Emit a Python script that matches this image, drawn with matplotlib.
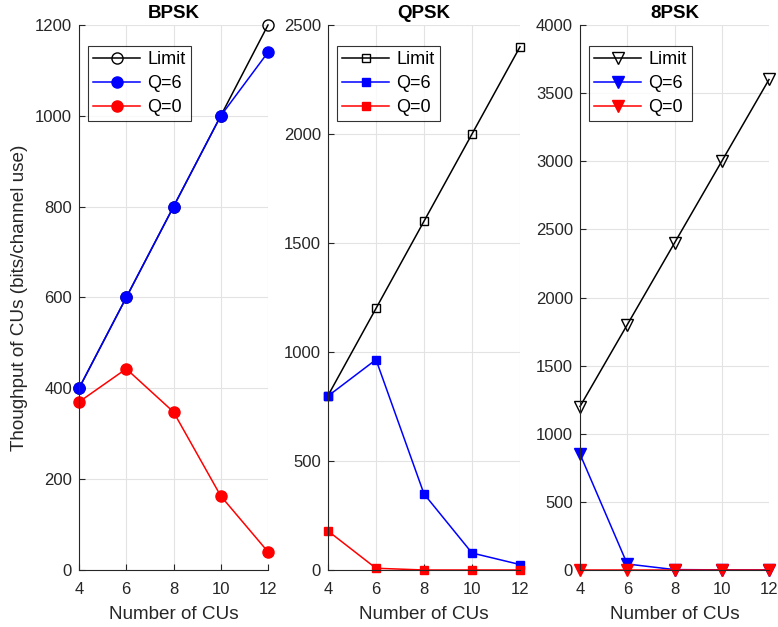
import matplotlib
matplotlib.use("Agg")
import matplotlib.pyplot as plt

plt.rcParams['font.family'] = ['Liberation Sans', 'DejaVu Sans']

cus = [4, 6, 8, 10, 12]

bpsk_limit = [400, 600, 800, 1000, 1200]
bpsk_q6 = [400, 600, 800, 1000, 1140]
bpsk_q0 = [370, 443, 348, 163, 40]

qpsk_limit = [800, 1200, 1600, 2000, 2400]
qpsk_q6 = [798, 965, 349, 78, 25]
qpsk_q0 = [179, 8, 0, 0, 0]

psk8_limit = [1200, 1800, 2400, 3000, 3600]
psk8_q6 = [851, 44, 3, 1, 0]
psk8_q0 = [0, 0, 0, 0, 0]

titles = ['BPSK', 'QPSK', '8PSK']
limits = [bpsk_limit, qpsk_limit, psk8_limit]
q6s = [bpsk_q6, qpsk_q6, psk8_q6]
q0s = [bpsk_q0, qpsk_q0, psk8_q0]
markers = ['o', 's', 'v']
msizes = [8, 6, 8.5]
ymaxes = [1200, 2500, 4000]
ysteps = [200, 500, 500]
lefts = [79, 328, 580]
widths = [189, 192, 189]

W, H = 778, 627
fig = plt.figure(figsize=(W / 100, H / 100), dpi=100)

axis_col = '#262626'
for i in range(3):
    ax = fig.add_axes([lefts[i] / W, (H - 570) / H, widths[i] / W, 545 / H])
    m = markers[i]
    ms = msizes[i]
    ax.plot(cus, limits[i], color='black', marker=m, markersize=ms,
            markerfacecolor='none', markeredgecolor='black', lw=1.1, label='Limit')
    ax.plot(cus, q6s[i], color='blue', marker=m, markersize=ms,
            markerfacecolor='blue', markeredgecolor='blue', lw=1.1, label='Q=6')
    ax.plot(cus, q0s[i], color='red', marker=m, markersize=ms,
            markerfacecolor='red', markeredgecolor='red', lw=1.1, label='Q=0')
    ax.set_xlim(4, 12)
    ax.set_ylim(0, ymaxes[i])
    ax.set_xticks(cus)
    ax.set_yticks(range(0, ymaxes[i] + 1, ysteps[i]))
    ax.grid(True, color='#e3e3e3', lw=0.8)
    ax.set_axisbelow(True)
    for s in ['top', 'right']:
        ax.spines[s].set_visible(False)
    for s in ['left', 'bottom']:
        ax.spines[s].set_color(axis_col)
        ax.spines[s].set_linewidth(0.8)
    ax.tick_params(direction='in', colors=axis_col, labelsize=12, length=4,
                   width=0.8, labelcolor=axis_col)
    ax.tick_params(axis='x', pad=9)
    ax.tick_params(axis='y', pad=5)
    ax.set_xlabel('Number of CUs', fontsize=13.6, color=axis_col, labelpad=6)
    ax.set_title(titles[i], fontsize=13.5, fontweight='bold', pad=5)
    if i == 0:
        ax.set_ylabel('Thoughput of CUs (bits/channel use)', fontsize=13.6,
                      color=axis_col, labelpad=5)
    for line in ax.get_lines():
        line.set_clip_on(False)
    leg = ax.legend(loc='upper left', bbox_to_anchor=(0.047, 0.962), fontsize=13,
                    frameon=True, fancybox=False, edgecolor='black',
                    handlelength=2.6, borderpad=0.3, labelspacing=0.38,
                    handletextpad=0.4, borderaxespad=0)
    leg.get_frame().set_linewidth(0.8)

fig.savefig('out.png', dpi=100)
